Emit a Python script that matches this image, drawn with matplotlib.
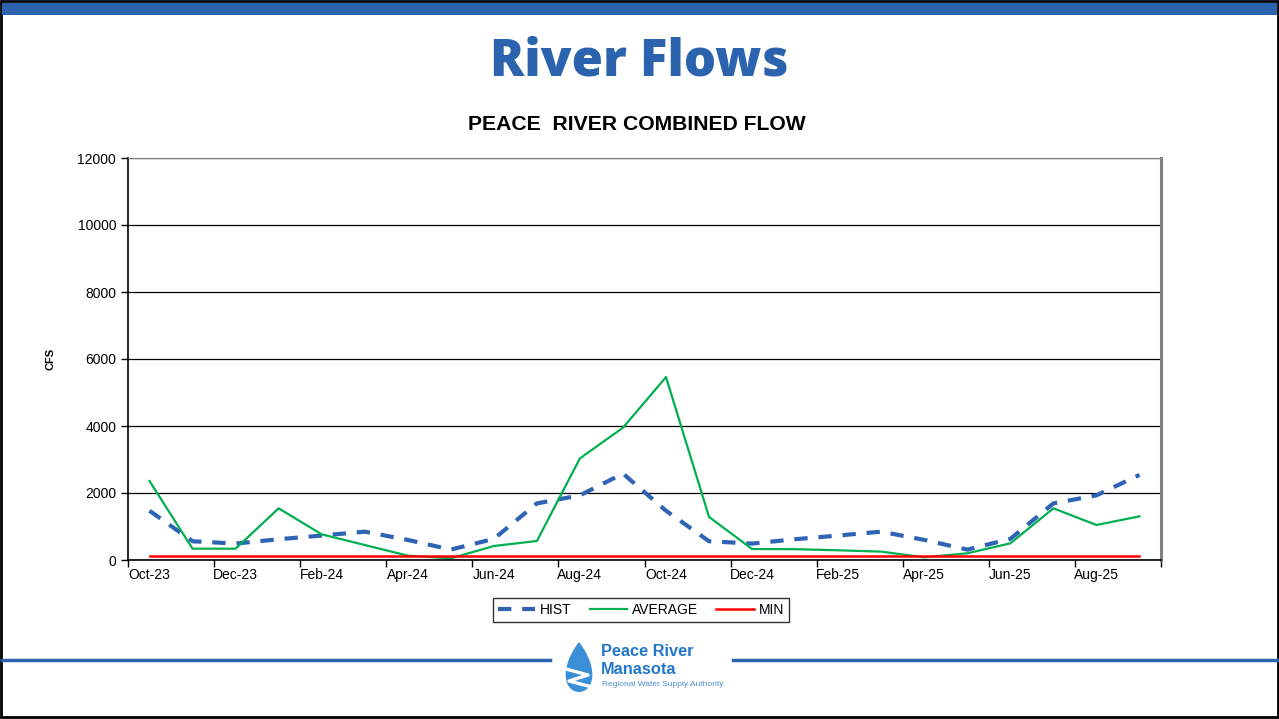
import numpy as np
import matplotlib
matplotlib.use("Agg")
import matplotlib.pyplot as plt
from matplotlib.patches import Rectangle, Polygon
from matplotlib.lines import Line2D

# monthly data, Oct-23 .. Sep-25
months = ["Oct-23", "Nov-23", "Dec-23", "Jan-24", "Feb-24", "Mar-24", "Apr-24", "May-24",
          "Jun-24", "Jul-24", "Aug-24", "Sep-24", "Oct-24", "Nov-24", "Dec-24", "Jan-25",
          "Feb-25", "Mar-25", "Apr-25", "May-25", "Jun-25", "Jul-25", "Aug-25", "Sep-25"]
hist = [1470, 560, 490, 620, 730, 846, 600, 310, 630, 1690, 1930, 2580,
        1470, 560, 490, 620, 730, 846, 600, 310, 630, 1690, 1930, 2540]
average = [2358, 338, 338, 1542, 766, 448, 130, 50, 418, 567, 3035, 3950,
           5460, 1284, 328, 322, 290, 250, 80, 200, 497, 1542, 1045, 1303]
min_flow = [130] * 24

W, H = 1279, 719
fig = plt.figure(figsize=(W / 100, H / 100), dpi=100)
fig.patch.set_facecolor("white")

def fx(px):
    return px / W

def fy(py):
    return 1 - py / H

blue = "#2B63AE"

# frame and top band
fig.add_artist(Rectangle((fx(1), fy(717)), fx(1277), 716 / H, transform=fig.transFigure,
                         fill=False, edgecolor="black", linewidth=2))
fig.add_artist(Rectangle((fx(2), fy(15)), fx(1275), 12 / H, transform=fig.transFigure,
                         facecolor=blue, edgecolor="none"))

fig.text(0.5, fy(62), "River Flows", ha="center", va="center", color=blue,
         fontsize=36.5, fontweight="heavy", family="Open Sans")
fig.text(fx(637), fy(124), "PEACE  RIVER COMBINED FLOW", ha="center", va="center",
         fontsize=15.2, fontweight="bold", family="Liberation Sans")

ax = fig.add_axes([fx(128), fy(560), fx(1161 - 128), (560 - 158) / H])
x = np.arange(len(months))
ax.plot(x, hist, color="#2F64B5", linewidth=3, dashes=(3.2, 2.6), label="HIST")
ax.plot(x, average, color="#00B050", linewidth=1.6, label="AVERAGE")
ax.plot(x, min_flow, color="#FF0000", linewidth=1.8, label="MIN")

ax.set_xlim(-0.5, 23.5)
ax.set_ylim(0, 12000)
ax.set_yticks(np.arange(0, 12001, 2000))
ax.yaxis.grid(True, color="black", linewidth=0.9)
ax.set_axisbelow(True)
ax.set_xticks(np.arange(-0.5, 24, 2))
ax.set_xticklabels([])
ax.set_xticks(x[::2], minor=True)
ax.set_xticklabels(months[::2], minor=True)
ax.tick_params(axis="x", which="minor", length=0, pad=6, labelsize=10)
ax.tick_params(axis="x", which="major", length=5, width=1)
ax.tick_params(axis="y", length=5, width=1, labelsize=10)
for lab in ax.get_xticklabels(minor=True) + ax.get_yticklabels():
    lab.set_family("Liberation Sans")
ax.spines["left"].set_linewidth(1.2)
ax.spines["bottom"].set_linewidth(1.2)
ax.spines["top"].set_color("#808080")
ax.spines["right"].set_color("#808080")
ax.spines["right"].set_linewidth(2.2)
ax.set_ylabel("CFS", fontsize=8, fontweight="bold", family="Liberation Sans")
ax.yaxis.set_label_coords((55 - 128) / 1033, 0.5)

leg = fig.legend(handles=ax.get_lines(), loc="center", bbox_to_anchor=(fx(641), fy(610)),
                 ncol=3, frameon=True, fancybox=False, edgecolor="black",
                 handlelength=2.7, handletextpad=0.35, columnspacing=1.3, borderpad=0.35,
                 prop={"family": "Liberation Sans", "size": 10})
leg.get_frame().set_linewidth(1)

# footer lines
fig.add_artist(Line2D([fx(2), fx(550)], [fy(660), fy(660)], color=blue, linewidth=2.5,
                      transform=fig.transFigure))
fig.add_artist(Line2D([fx(733), fx(1277)], [fy(660), fy(660)], color=blue, linewidth=2.5,
                      transform=fig.transFigure))

# logo: water drop
t = np.linspace(0, 2 * np.pi, 200)
dx = 17 * np.sin(t) * np.sin(t / 2) ** 0.9
dy = 25 * np.cos(t)
drop = np.column_stack([fx(579 + dx), fy(667 - dy)])
fig.add_artist(Polygon(drop, closed=True, transform=fig.transFigure,
                       facecolor="#3A8FD6", edgecolor="none"))
fig.add_artist(Line2D([fx(566), fx(588), fx(569), fx(592)], [fy(669), fy(675), fy(681), fy(687)],
                      color="white", linewidth=2.4, transform=fig.transFigure))
fig.text(fx(601), fy(652), "Peace River", color="#2277C9", fontsize=11.8, fontweight="bold",
         family="Liberation Sans", va="center")
fig.text(fx(601), fy(669), "Manasota", color="#2277C9", fontsize=11.8, fontweight="bold",
         family="Liberation Sans", va="center")
fig.text(fx(602), fy(685), "Regional Water Supply Authority", color="#4A90D0", fontsize=6,
         family="Liberation Sans", va="center")

fig.savefig("out.png", dpi=100)
